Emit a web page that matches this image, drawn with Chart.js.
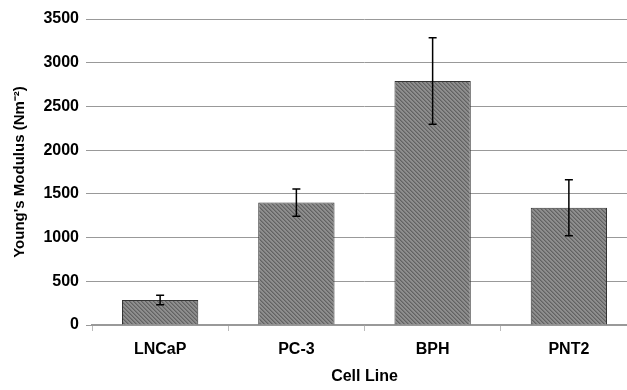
<!DOCTYPE html>
<html>
<head>
<meta charset="utf-8">
<script src="https://cdn.jsdelivr.net/npm/chart.js@4.4.0/dist/chart.umd.min.js"></script>
<style>
  html, body { margin: 0; padding: 0; background: #fff; overflow: hidden; }
  #wrap { width: 640px; height: 390px; }
</style>
</head>
<body>
<div id="wrap"><canvas id="chart" width="640" height="390"></canvas></div>
<script>
const cellLines = ['LNCaP', 'PC-3', 'BPH', 'PNT2'];
const modulus = [286, 1400, 2790, 1340];
const errors = [55, 155, 495, 320];
const yTicks = [0, 500, 1000, 1500, 2000, 2500, 3000, 3500];

// diagonal hatch fill for the bars, drawn pixel by pixel
function hatch() {
  const c = document.createElement('canvas');
  c.width = 4; c.height = 4;
  const g = c.getContext('2d');
  g.fillStyle = '#8e8e8e';
  g.fillRect(0, 0, 4, 4);
  g.fillStyle = '#626262';
  for (let i = 0; i < 4; i++) g.fillRect(i, i, 1, 1);
  g.fillStyle = '#787878';
  for (let i = 0; i < 4; i++) g.fillRect((i + 1) % 4, i, 1, 1);
  return g.createPattern(c, 'repeat');
}

const errorBars = {
  id: 'errorBars',
  afterDatasetsDraw(chart) {
    const ctx = chart.ctx;
    const y = chart.scales.y;
    const meta = chart.getDatasetMeta(0);
    ctx.save();
    ctx.strokeStyle = '#000';
    ctx.lineWidth = 1.5;
    meta.data.forEach((bar, i) => {
      const top = y.getPixelForValue(modulus[i] + errors[i]);
      const bot = y.getPixelForValue(modulus[i] - errors[i]);
      ctx.beginPath();
      ctx.moveTo(bar.x, top); ctx.lineTo(bar.x, bot);
      ctx.moveTo(bar.x - 4, top); ctx.lineTo(bar.x + 4, top);
      ctx.moveTo(bar.x - 4, bot); ctx.lineTo(bar.x + 4, bot);
      ctx.stroke();
    });
    ctx.restore();
  }
};

const font = { family: 'Liberation Sans, Arial, sans-serif', size: 16, weight: 'bold' };

new Chart(document.getElementById('chart'), {
  type: 'bar',
  data: {
    labels: cellLines,
    datasets: [{
      data: modulus,
      backgroundColor: hatch(),
      borderColor: '#333',
      borderWidth: 1,
      categoryPercentage: 1,
      barPercentage: 0.56
    }]
  },
  options: {
    responsive: false,
    animation: false,
    layout: { padding: { top: 19, right: 3, bottom: 0, left: 0 } },
    plugins: { legend: { display: false }, tooltip: { enabled: false } },
    scales: {
      x: {
        grid: { offset: true, drawOnChartArea: false, color: '#bbb', tickLength: 6 },
        border: { color: '#999', width: 1.5 },
        ticks: { color: '#000', font, padding: 9 },
        title: { display: true, text: 'Cell Line', color: '#000', font, padding: { top: 10 } },
        afterFit: (s) => { s.height = 65; }
      },
      y: {
        min: 0,
        max: 3500,
        afterBuildTicks: (s) => { s.ticks = yTicks.map((v) => ({ value: v })); },
        grid: { color: '#999', tickLength: 6 },
        border: { display: false },
        ticks: { color: '#000', font, padding: 7, callback: (v) => String(v) },
        title: {
          display: true,
          text: "Young's Modulus (Nm\u207B\u00B2)",
          color: '#000',
          font: { ...font, size: 15 },
          padding: { bottom: 0, top: 11 }
        },
        afterFit: (s) => { s.width = 92; }
      }
    }
  },
  plugins: [errorBars]
});
</script>
</body>
</html>
